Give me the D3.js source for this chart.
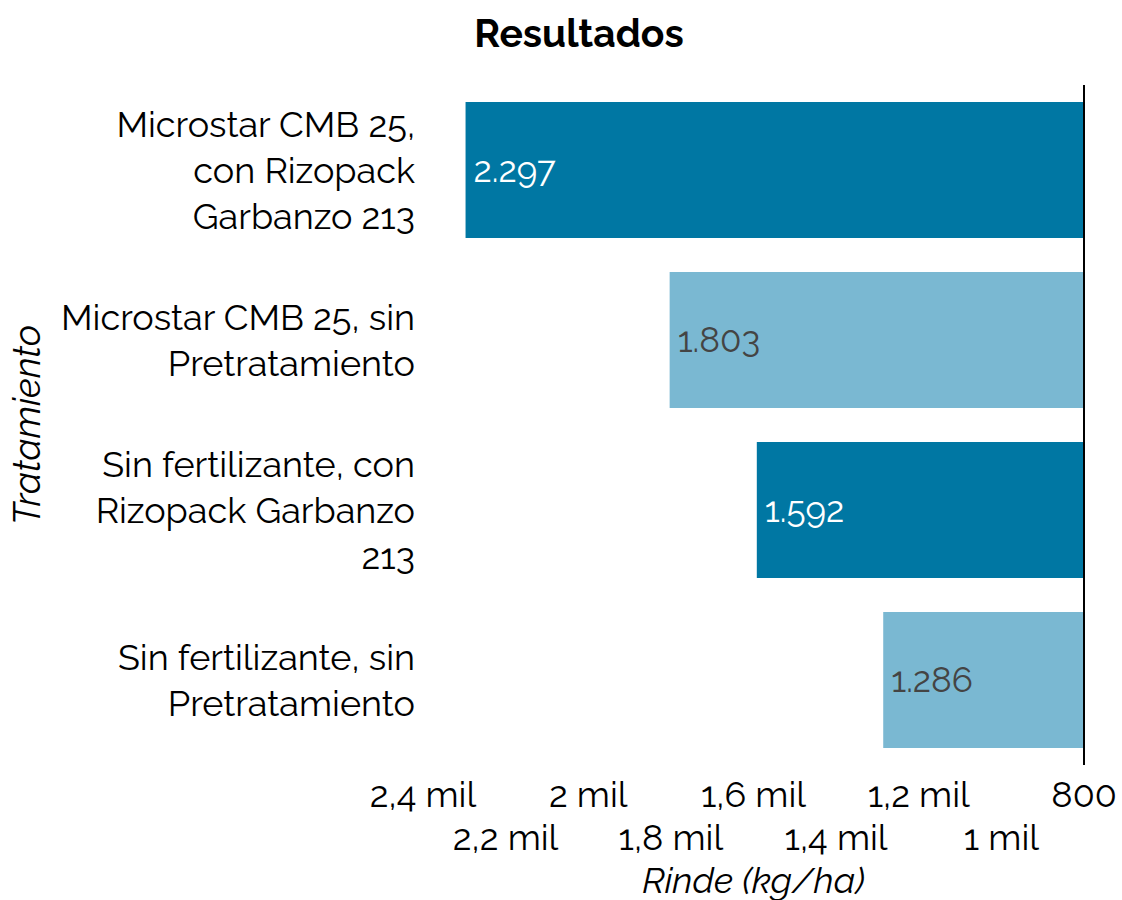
<!DOCTYPE html>
<html><head><meta charset="utf-8">
<script src="https://cdn.jsdelivr.net/npm/d3@7"></script>
<style>body{margin:0;background:#fff;} text{font-family:Raleway,Lato,"Open Sans",sans-serif;}</style>
</head><body>
<svg id="c" width="1122" height="900"></svg>
<script>
const categories = [
  "Microstar CMB 25,\ncon Rizopack\nGarbanzo 213",
  "Microstar CMB 25, sin\nPretratamiento",
  "Sin fertilizante, con\nRizopack Garbanzo\n213",
  "Sin fertilizante, sin\nPretratamiento"
];
const values = [2297, 1803, 1592, 1286];
const shades = ["dark", "light", "dark", "light"];
const tickValues = [800, 1000, 1200, 1400, 1600, 1800, 2000, 2200, 2400];
const title = "Resultados";
const xTitle = "Rinde (kg/ha)";
const yTitle = "Tratamiento";

const colors = {dark: "#0077a3", light: "#7ab8d2"};
const textColors = {dark: "#ffffff", light: "#444444"};

const svg = d3.select("#c");
const x = d3.scaleLinear().domain([800, 2400]).range([1084, 423]);
const y = d3.scaleBand().domain(categories).range([85, 765]).paddingInner(0.2).paddingOuter(0.1);

const fmtTick = v => v >= 1000 ? (v/1000).toString().replace(".", ",") + " mil" : String(v);
const fmtVal = v => d3.format(",")(v).replace(/,/g, ".");

svg.append("text").attr("x", 579).attr("y", 47).attr("text-anchor", "middle")
  .attr("font-size", 39).attr("font-weight", 700).attr("fill", "#000").text(title);

svg.selectAll("rect.bar").data(values).join("rect").attr("class", "bar")
  .attr("x", d => x(d)).attr("width", d => x(800) - x(d))
  .attr("y", (d, i) => y(categories[i])).attr("height", y.bandwidth())
  .attr("fill", (d, i) => colors[shades[i]]);

svg.selectAll("text.val").data(values).join("text").attr("class", "val")
  .attr("x", d => x(d) + 8).attr("y", (d, i) => y(categories[i]) + y.bandwidth()/2)
  .attr("dy", "0.35em").attr("font-size", 35)
  .attr("fill", (d, i) => textColors[shades[i]]).text(d => fmtVal(d));

svg.append("line").attr("x1", x(800)).attr("x2", x(800)).attr("y1", 85).attr("y2", 765)
  .attr("stroke", "#000").attr("stroke-width", 2);

const lineH = 46;
categories.forEach(c => {
  const lines = c.split("\n");
  const cy = y(c) + y.bandwidth()/2;
  const t = svg.append("text").attr("text-anchor", "end").attr("font-size", 36).attr("fill", "#000");
  lines.forEach((l, i) => {
    t.append("tspan").attr("x", 415)
      .attr("y", cy + (i - (lines.length - 1)/2) * lineH).attr("dy", "0.35em").text(l);
  });
});

svg.selectAll("text.tick").data(tickValues).join("text").attr("class", "tick")
  .attr("x", d => x(d)).attr("y", (d, i) => i % 2 === 0 ? 807 : 850)
  .attr("text-anchor", "middle").attr("font-size", 36).attr("fill", "#000").text(fmtTick);

svg.append("text").attr("x", (x.range()[0] + x.range()[1]) / 2).attr("y", 893)
  .attr("text-anchor", "middle").attr("font-size", 36).attr("font-style", "italic").text(xTitle);

svg.append("text").attr("transform", "translate(40,425) rotate(-90)")
  .attr("text-anchor", "middle").attr("font-size", 37).attr("font-style", "italic").text(yTitle);
</script>
</body></html>
